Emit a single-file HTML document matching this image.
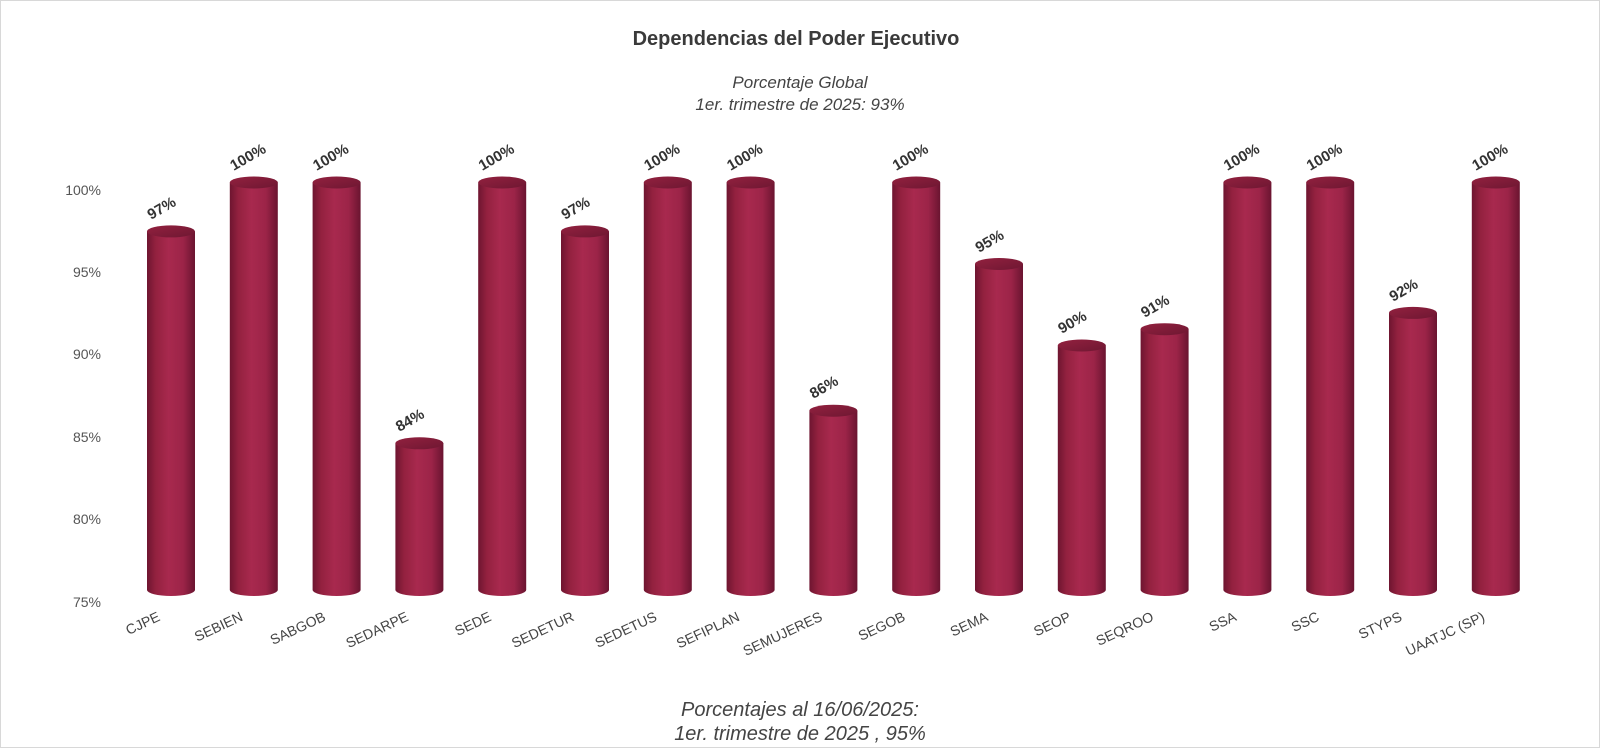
<!DOCTYPE html>
<html><head><meta charset="utf-8"><style>
html,body{margin:0;padding:0;background:#fff;}
svg{display:block;font-family:"Liberation Sans",sans-serif;}
</style></head><body>
<svg width="1600" height="748" viewBox="0 0 1600 748" xmlns="http://www.w3.org/2000/svg">
<defs>
<linearGradient id="cyl" x1="0" x2="1" y1="0" y2="0">
<stop offset="0" stop-color="#6e1530"/>
<stop offset="0.18" stop-color="#93213f"/>
<stop offset="0.45" stop-color="#a8294e"/>
<stop offset="0.75" stop-color="#9c2448"/>
<stop offset="1" stop-color="#6a1430"/>
</linearGradient>
<linearGradient id="top" x1="0" x2="1" y1="0" y2="1">
<stop offset="0" stop-color="#93213f"/>
<stop offset="1" stop-color="#6e1732"/>
</linearGradient>
</defs>
<rect x="0.5" y="0.5" width="1599" height="747" fill="#fff" stroke="#d8d8d8"/>
<text x="796" y="45" text-anchor="middle" font-size="20" font-weight="bold" fill="#3a3a3a">Dependencias del Poder Ejecutivo</text>
<text x="800" y="88" text-anchor="middle" font-size="17" font-style="italic" fill="#444">Porcentaje Global</text>
<text x="800" y="110" text-anchor="middle" font-size="17" font-style="italic" fill="#444">1er. trimestre de 2025: 93%</text>
<g font-size="14" fill="#555" text-anchor="end">
<text x="101" y="195">100%</text>
<text x="101" y="277">95%</text>
<text x="101" y="359">90%</text>
<text x="101" y="442">85%</text>
<text x="101" y="524">80%</text>
<text x="101" y="607">75%</text>
</g>

<g font-size="15" font-weight="bold" fill="#333">
<g transform="translate(171,0)"><path d="M-24 231.4 L-24 590 A24 6 0 0 0 24 590 L24 231.4 Z" fill="url(#cyl)"/><ellipse cx="0" cy="231.4" rx="24" ry="6" fill="url(#top)"/><text transform="translate(-20,220) rotate(-30)">97%</text><text transform="translate(-10,620) rotate(-25)" text-anchor="end" font-size="14" font-weight="normal" fill="#444">CJPE</text></g>
<g transform="translate(253.8,0)"><path d="M-24 182.5 L-24 590 A24 6 0 0 0 24 590 L24 182.5 Z" fill="url(#cyl)"/><ellipse cx="0" cy="182.5" rx="24" ry="6" fill="url(#top)"/><text transform="translate(-20,171) rotate(-30)">100%</text><text transform="translate(-10,620) rotate(-25)" text-anchor="end" font-size="14" font-weight="normal" fill="#444">SEBIEN</text></g>
<g transform="translate(336.6,0)"><path d="M-24 182.5 L-24 590 A24 6 0 0 0 24 590 L24 182.5 Z" fill="url(#cyl)"/><ellipse cx="0" cy="182.5" rx="24" ry="6" fill="url(#top)"/><text transform="translate(-20,171) rotate(-30)">100%</text><text transform="translate(-10,620) rotate(-25)" text-anchor="end" font-size="14" font-weight="normal" fill="#444">SABGOB</text></g>
<g transform="translate(419.4,0)"><path d="M-24 443.3 L-24 590 A24 6 0 0 0 24 590 L24 443.3 Z" fill="url(#cyl)"/><ellipse cx="0" cy="443.3" rx="24" ry="6" fill="url(#top)"/><text transform="translate(-20,432) rotate(-30)">84%</text><text transform="translate(-10,620) rotate(-25)" text-anchor="end" font-size="14" font-weight="normal" fill="#444">SEDARPE</text></g>
<g transform="translate(502.2,0)"><path d="M-24 182.5 L-24 590 A24 6 0 0 0 24 590 L24 182.5 Z" fill="url(#cyl)"/><ellipse cx="0" cy="182.5" rx="24" ry="6" fill="url(#top)"/><text transform="translate(-20,171) rotate(-30)">100%</text><text transform="translate(-10,620) rotate(-25)" text-anchor="end" font-size="14" font-weight="normal" fill="#444">SEDE</text></g>
<g transform="translate(585,0)"><path d="M-24 231.4 L-24 590 A24 6 0 0 0 24 590 L24 231.4 Z" fill="url(#cyl)"/><ellipse cx="0" cy="231.4" rx="24" ry="6" fill="url(#top)"/><text transform="translate(-20,220) rotate(-30)">97%</text><text transform="translate(-10,620) rotate(-25)" text-anchor="end" font-size="14" font-weight="normal" fill="#444">SEDETUR</text></g>
<g transform="translate(667.8,0)"><path d="M-24 182.5 L-24 590 A24 6 0 0 0 24 590 L24 182.5 Z" fill="url(#cyl)"/><ellipse cx="0" cy="182.5" rx="24" ry="6" fill="url(#top)"/><text transform="translate(-20,171) rotate(-30)">100%</text><text transform="translate(-10,620) rotate(-25)" text-anchor="end" font-size="14" font-weight="normal" fill="#444">SEDETUS</text></g>
<g transform="translate(750.6,0)"><path d="M-24 182.5 L-24 590 A24 6 0 0 0 24 590 L24 182.5 Z" fill="url(#cyl)"/><ellipse cx="0" cy="182.5" rx="24" ry="6" fill="url(#top)"/><text transform="translate(-20,171) rotate(-30)">100%</text><text transform="translate(-10,620) rotate(-25)" text-anchor="end" font-size="14" font-weight="normal" fill="#444">SEFIPLAN</text></g>
<g transform="translate(833.4,0)"><path d="M-24 410.7 L-24 590 A24 6 0 0 0 24 590 L24 410.7 Z" fill="url(#cyl)"/><ellipse cx="0" cy="410.7" rx="24" ry="6" fill="url(#top)"/><text transform="translate(-20,399) rotate(-30)">86%</text><text transform="translate(-10,620) rotate(-25)" text-anchor="end" font-size="14" font-weight="normal" fill="#444">SEMUJERES</text></g>
<g transform="translate(916.2,0)"><path d="M-24 182.5 L-24 590 A24 6 0 0 0 24 590 L24 182.5 Z" fill="url(#cyl)"/><ellipse cx="0" cy="182.5" rx="24" ry="6" fill="url(#top)"/><text transform="translate(-20,171) rotate(-30)">100%</text><text transform="translate(-10,620) rotate(-25)" text-anchor="end" font-size="14" font-weight="normal" fill="#444">SEGOB</text></g>
<g transform="translate(999,0)"><path d="M-24 264 L-24 590 A24 6 0 0 0 24 590 L24 264 Z" fill="url(#cyl)"/><ellipse cx="0" cy="264" rx="24" ry="6" fill="url(#top)"/><text transform="translate(-20,253) rotate(-30)">95%</text><text transform="translate(-10,620) rotate(-25)" text-anchor="end" font-size="14" font-weight="normal" fill="#444">SEMA</text></g>
<g transform="translate(1081.8,0)"><path d="M-24 345.5 L-24 590 A24 6 0 0 0 24 590 L24 345.5 Z" fill="url(#cyl)"/><ellipse cx="0" cy="345.5" rx="24" ry="6" fill="url(#top)"/><text transform="translate(-20,334) rotate(-30)">90%</text><text transform="translate(-10,620) rotate(-25)" text-anchor="end" font-size="14" font-weight="normal" fill="#444">SEOP</text></g>
<g transform="translate(1164.6,0)"><path d="M-24 329.2 L-24 590 A24 6 0 0 0 24 590 L24 329.2 Z" fill="url(#cyl)"/><ellipse cx="0" cy="329.2" rx="24" ry="6" fill="url(#top)"/><text transform="translate(-20,318) rotate(-30)">91%</text><text transform="translate(-10,620) rotate(-25)" text-anchor="end" font-size="14" font-weight="normal" fill="#444">SEQROO</text></g>
<g transform="translate(1247.4,0)"><path d="M-24 182.5 L-24 590 A24 6 0 0 0 24 590 L24 182.5 Z" fill="url(#cyl)"/><ellipse cx="0" cy="182.5" rx="24" ry="6" fill="url(#top)"/><text transform="translate(-20,171) rotate(-30)">100%</text><text transform="translate(-10,620) rotate(-25)" text-anchor="end" font-size="14" font-weight="normal" fill="#444">SSA</text></g>
<g transform="translate(1330.2,0)"><path d="M-24 182.5 L-24 590 A24 6 0 0 0 24 590 L24 182.5 Z" fill="url(#cyl)"/><ellipse cx="0" cy="182.5" rx="24" ry="6" fill="url(#top)"/><text transform="translate(-20,171) rotate(-30)">100%</text><text transform="translate(-10,620) rotate(-25)" text-anchor="end" font-size="14" font-weight="normal" fill="#444">SSC</text></g>
<g transform="translate(1413,0)"><path d="M-24 312.9 L-24 590 A24 6 0 0 0 24 590 L24 312.9 Z" fill="url(#cyl)"/><ellipse cx="0" cy="312.9" rx="24" ry="6" fill="url(#top)"/><text transform="translate(-20,302) rotate(-30)">92%</text><text transform="translate(-10,620) rotate(-25)" text-anchor="end" font-size="14" font-weight="normal" fill="#444">STYPS</text></g>
<g transform="translate(1495.8,0)"><path d="M-24 182.5 L-24 590 A24 6 0 0 0 24 590 L24 182.5 Z" fill="url(#cyl)"/><ellipse cx="0" cy="182.5" rx="24" ry="6" fill="url(#top)"/><text transform="translate(-20,171) rotate(-30)">100%</text><text transform="translate(-10,620) rotate(-25)" text-anchor="end" font-size="14" font-weight="normal" fill="#444">UAATJC (SP)</text></g>
</g>

<text x="800" y="716" text-anchor="middle" font-size="20" font-style="italic" fill="#444">Porcentajes al 16/06/2025:</text>
<text x="800" y="740" text-anchor="middle" font-size="20" font-style="italic" fill="#444">1er. trimestre de 2025 , 95%</text>
</svg>
</body></html>
